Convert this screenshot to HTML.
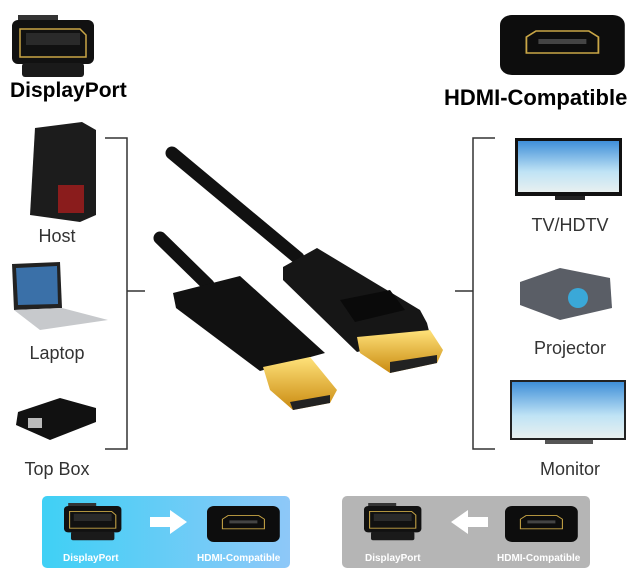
<!DOCTYPE html>
<html><head><meta charset="utf-8"><style>
html,body{margin:0;padding:0;background:#fff;}
body{width:637px;height:579px;position:relative;overflow:hidden;font-family:"Liberation Sans",sans-serif;}
.t{position:absolute;color:#333;font-size:18px;text-align:center;width:120px;}
.b{position:absolute;font-weight:bold;color:#000;white-space:nowrap;}
</style></head><body>
<svg width="637" height="579" style="position:absolute;left:0;top:0">
<defs>
<linearGradient id="blue" x1="0" x2="1"><stop offset="0" stop-color="#3fd0f5"/><stop offset="1" stop-color="#8ec8f8"/></linearGradient>
<linearGradient id="gold" x1="0" x2="0" y1="0" y2="1"><stop offset="0" stop-color="#ffe27a"/><stop offset="1" stop-color="#c98a10"/></linearGradient>
<linearGradient id="sky" x1="0" x2="0" y1="0" y2="1"><stop offset="0" stop-color="#3f8fd8"/><stop offset="0.6" stop-color="#bfe3f5"/><stop offset="1" stop-color="#e8f0f0"/></linearGradient>
<g id="dp">
<rect x="6" y="0" width="40" height="6" fill="#333"/>
<rect x="0" y="5" width="82" height="44" rx="6" fill="#111"/>
<path d="M8 14 L68 14 L74 20 L74 42 L8 42 Z" fill="none" stroke="#c9a646" stroke-width="1.5"/>
<rect x="14" y="18" width="54" height="12" fill="#2a2a2a"/>
<rect x="10" y="48" width="62" height="14" rx="3" fill="#1a1a1a"/>
</g>
<g id="hd">
<rect x="0" y="0" width="104" height="60" rx="10" fill="#0d0d0d"/>
<path d="M22 22 L30 16 L74 16 L82 22 L82 38 L22 38 Z" fill="none" stroke="#c9a646" stroke-width="1.5"/>
<rect x="32" y="24" width="40" height="5" fill="#444"/>
</g>
</defs>
<use href="#dp" x="12" y="15"/>
<g transform="translate(500,15) scale(1.2,1)"><use href="#hd"/></g>
<g stroke="#333" stroke-width="1.5" fill="none">
<path d="M105 138 H127 V449 H105 M127 291 H145"/>
<path d="M495 138 H473 V449 H495 M473 291 H455"/>
</g>
<path d="M35 128 L82 122 L96 130 L96 215 L80 222 L30 215 Z" fill="#1c1c1c"/>
<rect x="58" y="185" width="26" height="28" fill="#8a1c1c"/>
<path d="M12 264 L60 262 L62 308 L14 310 Z" fill="#222"/>
<path d="M16 268 L57 266 L58 304 L18 305 Z" fill="#3a70a8"/>
<path d="M14 310 L62 308 L108 320 L40 330 Z" fill="#c7c9cc"/>
<path d="M18 412 L60 398 L96 408 L96 422 L50 440 L16 425 Z" fill="#111"/>
<rect x="28" y="418" width="14" height="10" fill="#bbb"/>
<rect x="515" y="138" width="107" height="58" fill="#111"/>
<rect x="518" y="141" width="101" height="51" fill="url(#sky)"/>
<rect x="555" y="196" width="30" height="4" fill="#222"/>
<path d="M520 282 L560 268 L610 278 L612 308 L560 320 L520 305 Z" fill="#5a5e66"/>
<circle cx="578" cy="298" r="10" fill="#3aa8d8"/>
<rect x="510" y="380" width="116" height="60" fill="#222"/>
<rect x="512" y="382" width="112" height="56" fill="url(#sky)"/>
<rect x="545" y="440" width="48" height="4" fill="#555"/>
<g stroke="#111" stroke-linecap="round" fill="none">
<line x1="172" y1="153" x2="298" y2="258" stroke-width="13"/>
<line x1="160" y1="238" x2="208" y2="285" stroke-width="13"/>
</g>
<path d="M173 293 L240 276 L325 353 L260 371 L176 308 Z" fill="#111"/>
<path d="M263 367 L310 357 L337 390 L330 403 L293 410 L270 390 Z" fill="url(#gold)"/>
<path d="M290 402 L330 395 L330 403 L293 410 Z" fill="#222"/>
<path d="M283 267 L317 248 L420 310 L427 323 L430 335 L357 352 L283 280 Z" fill="#161616"/>
<path d="M340 300 L390 290 L405 310 L355 322 Z" fill="#0a0a0a"/>
<path d="M357 337 L430 330 L443 350 L437 363 L390 373 L360 353 Z" fill="url(#gold)"/>
<path d="M390 362 L437 355 L437 363 L390 373 Z" fill="#222"/>
<rect x="42" y="496" width="248" height="72" rx="5" fill="url(#blue)"/>
<rect x="342" y="496" width="248" height="72" rx="5" fill="#b5b5b5"/>
<g transform="translate(64,503) scale(0.7,0.6)"><use href="#dp"/></g>
<g transform="translate(364,503) scale(0.7,0.6)"><use href="#dp"/></g>
<g transform="translate(207,506) scale(0.7,0.6)"><use href="#hd"/></g>
<g transform="translate(505,506) scale(0.7,0.6)"><use href="#hd"/></g>
<path d="M150 517 H170 V510 L187 522 L170 534 V527 H150 Z" fill="#fff"/>
<path d="M488 517 H468 V510 L451 522 L468 534 V527 H488 Z" fill="#fff"/>
<g font-family="Liberation Sans,sans-serif" font-weight="bold" font-size="10" fill="#fff">
<text x="63" y="561">DisplayPort</text><text x="197" y="561">HDMI-Compatible</text>
<text x="365" y="561">DisplayPort</text><text x="497" y="561">HDMI-Compatible</text>
</g>
</svg>
<div class="b" style="left:10px;top:79px;font-size:21px;">DisplayPort</div>
<div class="b" style="left:444px;top:85px;font-size:22px;">HDMI-Compatible</div>
<div class="t" style="left:-3px;top:226px;">Host</div>
<div class="t" style="left:-3px;top:343px;">Laptop</div>
<div class="t" style="left:-3px;top:459px;">Top Box</div>
<div class="t" style="left:510px;top:215px;">TV/HDTV</div>
<div class="t" style="left:510px;top:338px;">Projector</div>
<div class="t" style="left:510px;top:459px;">Monitor</div>
</body></html>
